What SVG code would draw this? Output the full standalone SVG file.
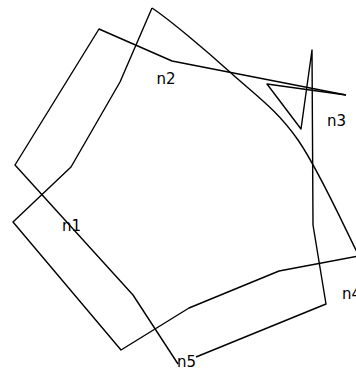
<svg xmlns="http://www.w3.org/2000/svg" width="356" height="369" viewBox="0 0 356 369">
<style>
.e{fill:none;stroke:#000;stroke-width:1.4;stroke-linejoin:round}
.l{font-family:"DejaVu Sans",sans-serif;font-size:15px;fill:#000}
</style>
<rect width="356" height="369" fill="#fff"/>
<g id="edges">
<path id="e1" class="e" d="M346,95 L172,61 L99,29 L15,165 L133,295 L178,364"/>
<path id="e2" class="e" d="M152,8 C170,20 206.7,51 231,73 C255.3,95 276.7,109.5 298,140 C319.3,170.5 348.8,236.7 359,256"/>
<path id="e3" class="e" d="M152,8 L120,82 L71,167 L13,222 L121,350 L189,308 L279,271 L359,256"/>
<path id="e4" class="e" d="M346,95 L267,84 L301,129 L312,50 L313,225 L326,304 L196,357"/>
</g>
<g id="n1"><text class="l" x="62" y="231">n1</text></g>
<g id="n2"><text class="l" x="156.5" y="84">n2</text></g>
<g id="n3"><text class="l" x="327" y="126">n3</text></g>
<g id="n4"><text class="l" x="342" y="299">n4</text></g>
<g id="n5"><text class="l" x="177" y="367">n5</text></g>
</svg>
